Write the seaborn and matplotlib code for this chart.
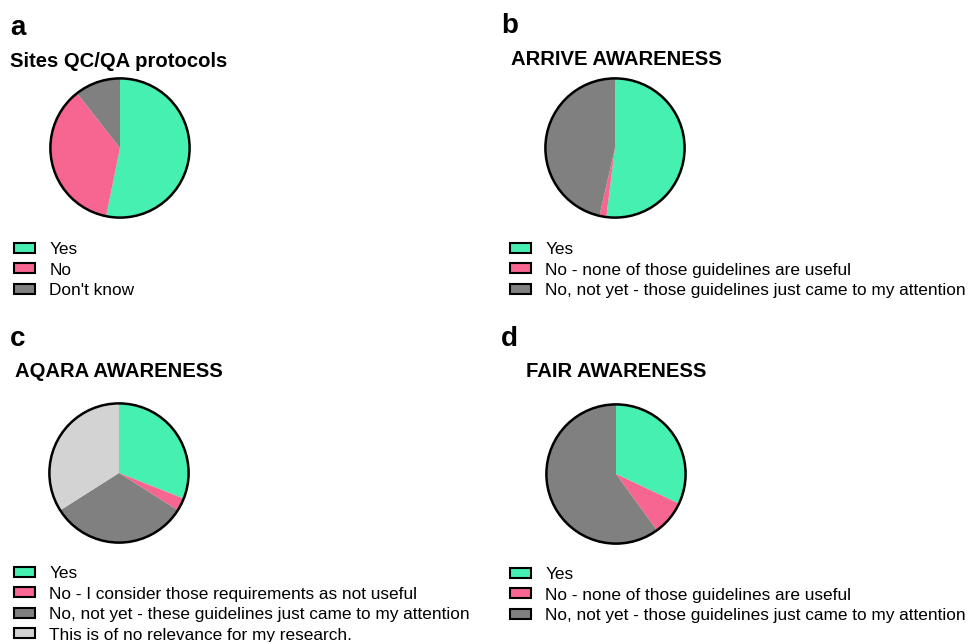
import matplotlib
matplotlib.use("Agg")
import matplotlib.pyplot as plt
from matplotlib.patches import Patch, Circle
import seaborn as sns

sns.set_theme(style="white")
plt.rcParams["font.family"] = ["Liberation Sans", "DejaVu Sans"]
plt.rcParams["text.color"] = "black"

# Survey answers (percent of respondents)
qc_labels = ["Yes", "No", "Don't know"]
qc_values = [53.2, 36.2, 10.6]

arrive_labels = ["Yes", "No - none of those guidelines are useful",
                 "No, not yet - those guidelines just came to my attention"]
arrive_values = [52.0, 1.6, 46.4]

aqara_labels = ["Yes", "No - I consider those requirements as not useful",
                "No, not yet - these guidelines just came to my attention",
                "This is of no relevance for my research."]
aqara_values = [31.0, 3.0, 32.0, 34.0]

fair_labels = ["Yes", "No - none of those guidelines are useful",
               "No, not yet - those guidelines just came to my attention"]
fair_values = [32.0, 8.0, 60.0]

palette = ["#45F0B0", "#F76690", "#808080", "#D3D3D3"]

W, H = 972, 642
fig = plt.figure(figsize=(W / 100, H / 100), dpi=100)
fig.patch.set_facecolor("white")

panels = [
    dict(letter="a", lx=10, ly=35, title="Sites QC/QA protocols", tx=10, ty=67,
         cx=120, cy=148, labels=qc_labels, values=qc_values, legx=14, legy=242),
    dict(letter="b", lx=501, ly=33, title="ARRIVE AWARENESS", tx=511, ty=65,
         cx=615, cy=148, labels=arrive_labels, values=arrive_values, legx=510, legy=242),
    dict(letter="c", lx=10, ly=346, title="AQARA AWARENESS", tx=15, ty=377,
         cx=119, cy=473, labels=aqara_labels, values=aqara_values, legx=14, legy=566),
    dict(letter="d", lx=501, ly=346, title="FAIR AWARENESS", tx=526, ty=377,
         cx=616, cy=474, labels=fair_labels, values=fair_values, legx=510, legy=567),
]

R = 71
for p in panels:
    fig.text(p["lx"] / W, 1 - p["ly"] / H, p["letter"], fontsize=20,
             fontweight="bold", ha="left", va="baseline", color="black")
    fig.text(p["tx"] / W, 1 - p["ty"] / H, p["title"], fontsize=14.6,
             fontweight="bold", ha="left", va="baseline", color="black")

    ax = fig.add_axes([(p["cx"] - R) / W, 1 - (p["cy"] + R) / H,
                       2 * R / W, 2 * R / H])
    cols = palette[:len(p["values"])]
    ax.pie(p["values"], colors=cols, startangle=90, counterclock=False,
           radius=1, wedgeprops=dict(linewidth=0))
    ax.add_patch(Circle((0, 0), 1, fill=False, edgecolor="black", linewidth=1.8))
    ax.set_xlim(-1.02, 1.02)
    ax.set_ylim(-1.02, 1.02)
    ax.set_aspect("equal")
    ax.axis("off")

    handles = [Patch(facecolor=c, edgecolor="black", linewidth=1.5) for c in cols]
    leg = fig.legend(handles, p["labels"], loc="upper left",
                     bbox_to_anchor=(p["legx"] / W, 1 - p["legy"] / H),
                     frameon=False, borderpad=0, borderaxespad=0, fontsize=12.4,
                     handlelength=1.2, handleheight=0.52, handletextpad=0.85,
                     labelspacing=0.32)
    for t in leg.get_texts():
        t.set_color("black")

fig.savefig("out.png", dpi=100)
